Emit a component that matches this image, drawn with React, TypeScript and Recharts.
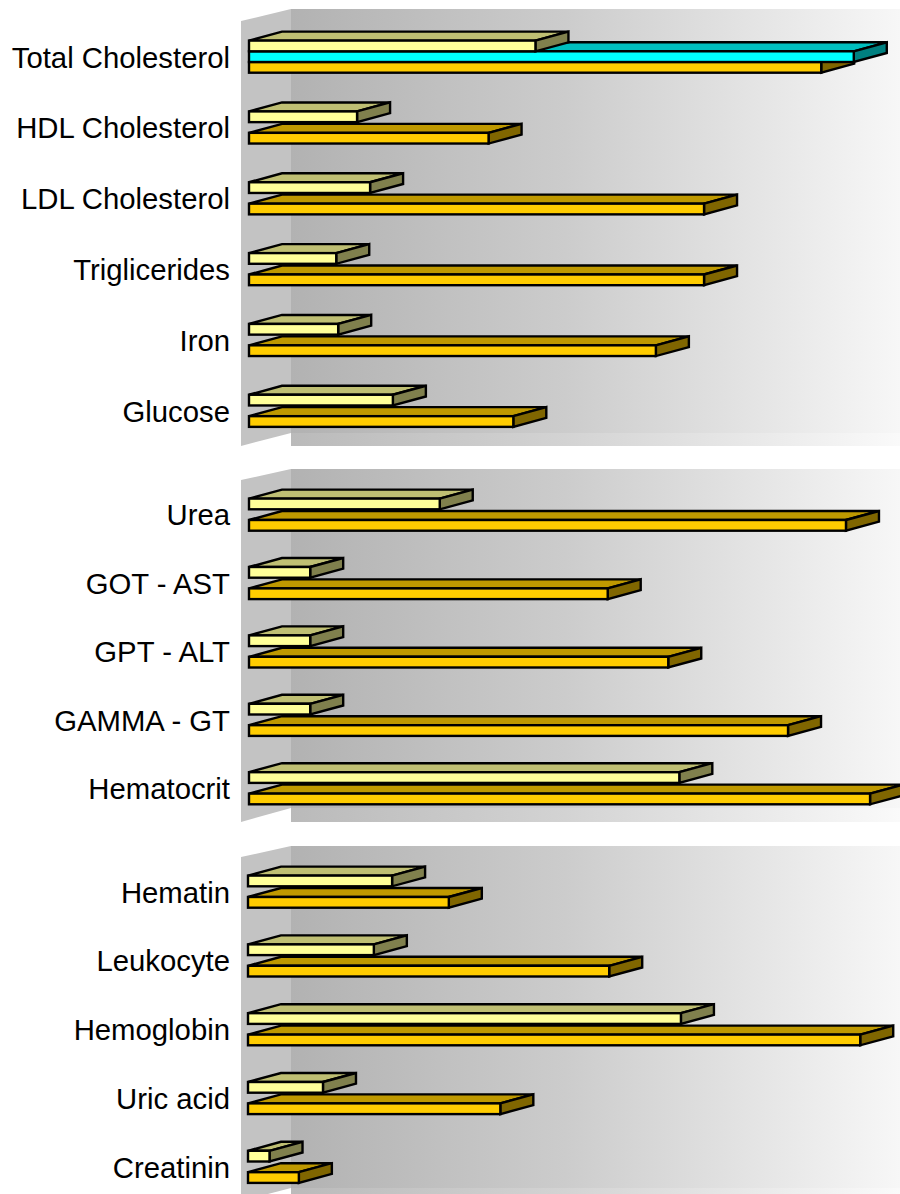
import { BarChart, Bar, XAxis, YAxis } from "recharts";

// Lab results, three groups of tests. Values are on a 0–100 scale.
const lipidTests = ["Total Cholesterol", "HDL Cholesterol", "LDL Cholesterol", "Triglicerides", "Iron", "Glucose"];
const lipidPale = [44.0, 16.6, 18.6, 13.4, 13.7, 22.1];
const lipidCyan = [92.9, null, null, null, null, null];
const lipidGold = [87.9, 36.8, 69.9, 69.9, 62.5, 40.6];

const liverTests = ["Urea", "GOT - AST", "GPT - ALT", "GAMMA - GT", "Hematocrit"];
const liverPale = [29.3, 9.4, 9.4, 9.4, 66.1];
const liverGold = [91.7, 55.1, 64.4, 82.8, 95.4];

const bloodTests = ["Hematin", "Leukocyte", "Hemoglobin", "Uric acid", "Creatinin"];
const bloodPale = [22.1, 19.3, 66.4, 11.5, 3.3];
const bloodGold = [30.8, 55.4, 93.9, 38.7, 7.8];

type Row = { test: string; pale: number | null; cyan: number | null; gold: number | null };

function buildRows(tests: string[], pale: (number | null)[], gold: (number | null)[], cyan?: (number | null)[]): Row[] {
  return tests.map((test, i) => ({ test, pale: pale[i], cyan: cyan ? cyan[i] : null, gold: gold[i] }));
}

const WIDTH = 900;
const HEIGHT = 1194;
const DX = 33; // depth of the 3d slabs
const DY = 9;
const BAR = 10.7;
const FONT = "'Liberation Sans', Arial, sans-serif";

// wall / floor outline for each block (page coordinates)
const blocks = [
  { rows: buildRows(lipidTests, lipidPale, lipidGold, lipidCyan), top: 21, bottom: 446, backTop: 9, backBottom: 433, axisWidth: 249 },
  { rows: buildRows(liverTests, liverPale, liverGold), top: 480, bottom: 822, backTop: 469, backBottom: 808, axisWidth: 249 },
  { rows: buildRows(bloodTests, bloodPale, bloodGold), top: 857, bottom: 1201, backTop: 846, backBottom: 1188, axisWidth: 248 },
];

const WALL_LEFT = 241;
const WALL_BACK = 291;

function Slab(props: any) {
  const { x, y, width, height, face, top, side } = props;
  if (x == null || y == null || !width || width <= 0) return null;
  const x2 = x + width;
  const y2 = y + height;
  return (
    <g stroke="#000" strokeWidth={2.4} strokeLinejoin="miter">
      <polygon points={`${x},${y} ${x + DX},${y - DY} ${x2 + DX},${y - DY} ${x2},${y}`} fill={top} />
      <polygon points={`${x2},${y} ${x2 + DX},${y - DY} ${x2 + DX},${y2 - DY} ${x2},${y2}`} fill={side} />
      <rect x={x} y={y} width={width} height={height} fill={face} />
    </g>
  );
}

const paleSlab = (p: any) => <Slab {...p} face="#FFFF99" top="#BFBF73" side="#80804D" />;
const cyanSlab = (p: any) => <Slab {...p} face="#00FFFF" top="#00BFBF" side="#008080" />;
const goldSlab = (p: any) => <Slab {...p} face="#FFCC00" top="#BF9900" side="#806600" />;

function TestLabel(props: any) {
  const { y, payload } = props;
  return (
    <text x={230} y={y} dy="0.38em" textAnchor="end" fontSize={29.3} fontFamily={FONT} fill="#000">
      {payload.value}
    </text>
  );
}

function Backdrop() {
  return (
    <svg width={WIDTH} height={HEIGHT} style={{ position: "absolute", left: 0, top: 0 }}>
      <defs>
        <linearGradient id="backWall" x1={WALL_BACK} x2={WIDTH} y1={0} y2={0} gradientUnits="userSpaceOnUse">
          <stop offset="0" stopColor="#b2b2b2" />
          <stop offset="0.45" stopColor="#cccccc" />
          <stop offset="1" stopColor="#f7f7f7" />
        </linearGradient>
        <linearGradient id="floor" x1={WALL_BACK} x2={WIDTH} y1={0} y2={0} gradientUnits="userSpaceOnUse">
          <stop offset="0" stopColor="#bababa" />
          <stop offset="0.45" stopColor="#d3d3d3" />
          <stop offset="1" stopColor="#fafafa" />
        </linearGradient>
      </defs>
      {blocks.map((b, i) => (
        <g key={i}>
          <rect x={WALL_BACK} y={b.backTop} width={WIDTH - WALL_BACK} height={b.backBottom - b.backTop} fill="url(#backWall)" />
          <rect x={WALL_BACK} y={b.backBottom} width={WIDTH - WALL_BACK} height={b.bottom - b.backBottom} fill="url(#floor)" />
          <polygon
            points={`${WALL_LEFT},${b.top} ${WALL_BACK},${b.backTop} ${WALL_BACK},${b.backBottom} ${WALL_LEFT},${b.bottom}`}
            fill="#c3c3c3"
          />
        </g>
      ))}
    </svg>
  );
}

function Block({ block }: { block: (typeof blocks)[number] }) {
  const boxTop = block.backTop - 4;
  const boxHeight = block.bottom - boxTop + 6;
  return (
    <div style={{ position: "absolute", left: 0, top: boxTop, width: WIDTH, height: boxHeight }}>
      <BarChart
        width={WIDTH}
        height={boxHeight}
        data={block.rows}
        layout="vertical"
        barGap={-2 * BAR}
        margin={{ top: block.top - boxTop, bottom: boxTop + boxHeight - block.bottom, left: 0, right: 0 }}
      >
        <XAxis type="number" domain={[0, 100]} hide />
        <YAxis
          type="category"
          dataKey="test"
          width={block.axisWidth}
          axisLine={false}
          tickLine={false}
          interval={0}
          tick={<TestLabel />}
        />
        {/* declared bottom-up so the upper slabs paint over the lower ones */}
        <Bar dataKey="gold" barSize={BAR} shape={goldSlab} isAnimationActive={false} />
        <Bar dataKey="cyan" barSize={BAR} shape={cyanSlab} isAnimationActive={false} />
        <Bar dataKey="pale" barSize={BAR} shape={paleSlab} isAnimationActive={false} />
      </BarChart>
    </div>
  );
}

export default function App() {
  return (
    <div style={{ position: "absolute", left: 0, top: 0, width: WIDTH, height: HEIGHT, overflow: "hidden", background: "#fff" }}>
      <Backdrop />
      {blocks.map((b, i) => (
        <Block key={i} block={b} />
      ))}
    </div>
  );
}
